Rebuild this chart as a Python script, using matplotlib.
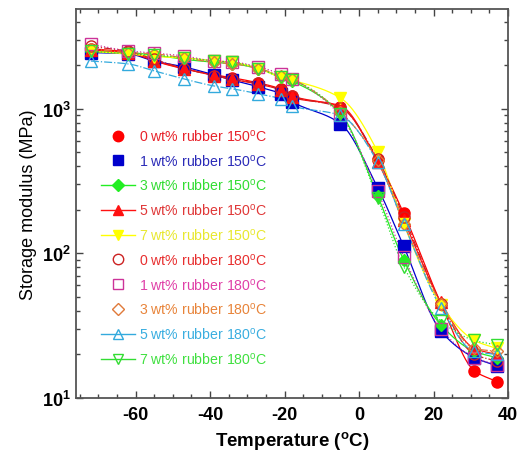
import numpy as np
import matplotlib
matplotlib.use("Agg")
import matplotlib.pyplot as plt
from matplotlib.lines import Line2D
from matplotlib.ticker import MultipleLocator, LogLocator, FixedLocator, NullFormatter

plt.rcParams['font.family'] = ['Liberation Sans', 'DejaVu Sans']
plt.rcParams['axes.unicode_minus'] = False
plt.rcParams['mathtext.fontset'] = 'custom'
plt.rcParams['mathtext.rm'] = 'Liberation Sans'
plt.rcParams['mathtext.bf'] = 'Liberation Sans:bold'

# Measurement temperatures (deg C)
temps = [-72, -62, -55, -47, -39, -34, -27, -21, -18, -5, 5, 12, 22, 31, 37]

# Storage modulus (MPa) for each blend / processing temperature
e_0wt_150 = [2600, 2470, 2140, 1890, 1720, 1640, 1510, 1370, 1230, 1030, 440, 189, 45, 15.4, 13]
e_1wt_150 = [2450, 2400, 2140, 1950, 1720, 1580, 1420, 1270, 1120, 790, 285, 112, 29, 19, 16.7]
e_3wt_150 = [2500, 2450, 2350, 2200, 2100, 2050, 1900, 1650, 1550, 930, 250, 90, 32, 21, 19]
e_5wt_150 = [2550, 2450, 2150, 1900, 1700, 1600, 1480, 1350, 1200, 1050, 430, 170, 46, 22, 20]
e_7wt_150 = [2500, 2400, 2300, 2250, 2150, 2100, 1900, 1650, 1580, 1190, 505, 160, 44, 25, 22]
e_0wt_180 = [2700, 2500, 2200, 1900, 1700, 1600, 1500, 1350, 1220, 1020, 450, 180, 45, 20, 18]
e_1wt_180 = [2800, 2520, 2430, 2320, 2140, 2110, 1950, 1740, 1610, 900, 270, 95, 30, 19, 17]
e_3wt_180 = [2600, 2450, 2400, 2250, 2100, 2050, 1900, 1700, 1600, 950, 440, 160, 45, 22, 21]
e_5wt_180 = [2140, 2045, 1830, 1610, 1440, 1375, 1270, 1170, 1050, 900, 430, 160, 42, 21, 20]
e_7wt_180 = [2500, 2400, 2350, 2250, 2150, 2100, 1900, 1650, 1580, 920, 240, 81, 34, 25, 23.3]

labels = [
    "0 wt% rubber 150$^{\\mathregular{o}}$C",
    "1 wt% rubber 150$^{\\mathregular{o}}$C",
    "3 wt% rubber 150$^{\\mathregular{o}}$C",
    "5 wt% rubber 150$^{\\mathregular{o}}$C",
    "7 wt% rubber 150$^{\\mathregular{o}}$C",
    "0 wt% rubber 180$^{\\mathregular{o}}$C",
    "1 wt% rubber 180$^{\\mathregular{o}}$C",
    "3 wt% rubber 180$^{\\mathregular{o}}$C",
    "5 wt% rubber 180$^{\\mathregular{o}}$C",
    "7 wt% rubber 180$^{\\mathregular{o}}$C",
]

series = [e_0wt_150, e_1wt_150, e_3wt_150, e_5wt_150, e_7wt_150,
          e_0wt_180, e_1wt_180, e_3wt_180, e_5wt_180, e_7wt_180]

# (marker, colour, filled, line style, text colour, line shown in key)
styles = [
    ('o', '#ff0000', True, '-', '#e8232b', False),
    ('s', '#0000cc', True, '-', '#2b2bb8', False),
    ('D', '#22ee22', True, '-', '#33dd33', True),
    ('^', '#ff1111', True, '-', '#e03838', True),
    ('v', '#ffff00', True, '-', '#e8e830', True),
    ('o', '#cc2222', False, '-.', '#e83030', False),
    ('s', '#cc3399', False, ':', '#e040a8', False),
    ('D', '#e07a3a', False, '-.', '#e8843a', False),
    ('^', '#33aadd', False, '-.', '#3aaee0', True),
    ('v', '#33dd33', False, ':', '#40e040', True),
]


def pchip(x, y, xs):
    """Shape-preserving cubic through the points, used for the guide curves."""
    x = np.asarray(x, float)
    y = np.asarray(y, float)
    h = np.diff(x)
    d = np.diff(y) / h
    m = np.zeros_like(y)
    for k in range(1, len(x) - 1):
        if d[k - 1] * d[k] > 0:
            w1 = 2 * h[k] + h[k - 1]
            w2 = h[k] + 2 * h[k - 1]
            m[k] = (w1 + w2) / (w1 / d[k - 1] + w2 / d[k])
    m[0] = d[0]
    m[-1] = d[-1]
    idx = np.clip(np.searchsorted(x, xs) - 1, 0, len(x) - 2)
    t = (xs - x[idx]) / h[idx]
    h00 = 2 * t**3 - 3 * t**2 + 1
    h10 = t**3 - 2 * t**2 + t
    h01 = -2 * t**3 + 3 * t**2
    h11 = t**3 - t**2
    return (h00 * y[idx] + h10 * h[idx] * m[idx] + h01 * y[idx + 1]
            + h11 * h[idx] * m[idx + 1])


fig = plt.figure(figsize=(5.23, 4.56), dpi=100)
ax = fig.add_axes([0.1453, 0.125, 0.826, 0.853])

xs = np.linspace(min(temps), max(temps), 400)
handles = []
for vals, (mk, col, filled, ls, tcol, keyline) in zip(series, styles):
    curve = 10 ** pchip(temps, np.log10(vals), xs)
    ax.plot(xs, curve, color=col, ls=ls, lw=0.9, zorder=2)
    ax.plot(temps, vals, ls='none', marker=mk, ms=8 if mk != 'D' else 6.5,
            mfc=col if filled else 'none', mec=col, mew=1.0, zorder=3)
    handles.append(Line2D([], [], color=col, ls='-' if keyline else 'none', lw=1.0,
                          marker=mk, ms=7.5 if mk != 'D' else 6,
                          mfc=col if filled else 'none', mec=col, mew=1.0))

ax.set_yscale('log')
ax.set_xlim(-76, 40)
ax.set_ylim(10, 4900)

ax.xaxis.set_major_locator(MultipleLocator(20))
ax.xaxis.set_minor_locator(MultipleLocator(5))
ax.yaxis.set_major_locator(FixedLocator([10, 100, 1000]))
ax.yaxis.set_minor_locator(LogLocator(base=10, subs=np.arange(2, 10)))
ax.yaxis.set_minor_formatter(NullFormatter())
ax.set_yticklabels(["$\\mathbf{10^{1}}$", "$\\mathbf{10^{2}}$", "$\\mathbf{10^{3}}$"])
ax.set_xticks([-60, -40, -20, 0, 20, 40])
ax.set_xticklabels(["-60", "-40", "-20", "0", "20", "40"], fontweight='bold')

ax.tick_params(which='both', direction='in', top=True, right=True,
               labelsize=13, color='#444444')
ax.tick_params(which='major', length=5, width=1)
ax.tick_params(which='minor', length=3, width=1)
ax.tick_params(axis='x', pad=6)
for sp in ax.spines.values():
    sp.set_color('#555555')
    sp.set_linewidth(1.3)

ax.set_xlabel("Temperature ($^{\\mathregular{o}}$C)", fontsize=13.5, fontweight='bold', labelpad=4)
ax.set_ylabel("Storage modulus (MPa)", fontsize=13, labelpad=4)

leg = ax.legend(handles, labels, loc='upper left', bbox_to_anchor=(0.045, 0.71),
                frameon=False, fontsize=10.2, handlelength=2.4, handletextpad=0.3,
                labelspacing=0.62, borderaxespad=0)
for txt, st in zip(leg.get_texts(), styles):
    txt.set_color(st[4])

fig.savefig("out.png", dpi=100)
